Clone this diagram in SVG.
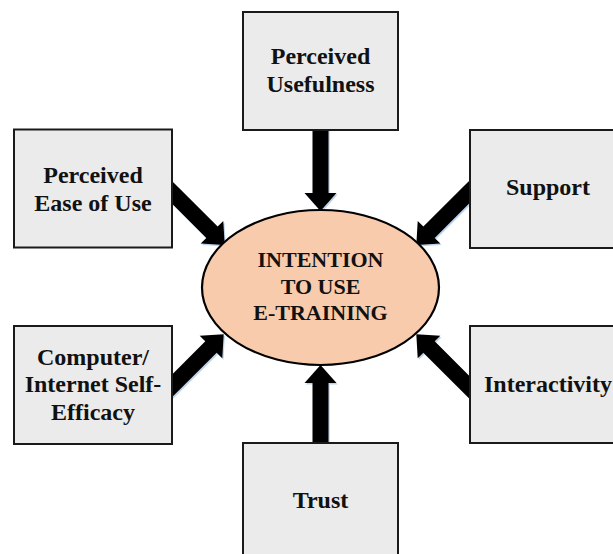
<svg xmlns="http://www.w3.org/2000/svg" xmlns:xlink="http://www.w3.org/1999/xlink" width="613" height="554" viewBox="0 0 613 554">
  <style>
    .box { fill: #ebebeb; stroke: #1a1a1a; stroke-width: 2; }
    .core { fill: #f8cbad; stroke: #000; stroke-width: 2.2; }
    .lbl { font-family: "Liberation Serif", "Times New Roman", serif; font-weight: bold; font-size: 24px; fill: #111; text-anchor: middle; }
    .core-lbl { font-size: 22px; }
    .arrow { fill: #000; }
    .arrow-shadow { fill: #bcd3ec; }
  </style>
  <defs>
    <!-- block arrow, tip at origin, pointing along +x -->
    <path id="blockArrow" d="M-90,-8 H-18 V-16 L0,0 L-18,16 V8 H-90 Z"/>
  </defs>

  <g id="connectors">
    <g class="arrow-shadow" transform="translate(1.2,1.5)">
      <use xlink:href="#blockArrow" transform="translate(320.5,211) rotate(90)"/>
      <use xlink:href="#blockArrow" transform="translate(320.5,365) rotate(-90)"/>
      <use xlink:href="#blockArrow" transform="translate(224.7,245) rotate(45)"/>
      <use xlink:href="#blockArrow" transform="translate(416.3,245) rotate(135)"/>
      <use xlink:href="#blockArrow" transform="translate(223.7,334.3) rotate(-45)"/>
      <use xlink:href="#blockArrow" transform="translate(416.3,334.3) rotate(-135)"/>
    </g>
    <g class="arrow">
      <use xlink:href="#blockArrow" transform="translate(320.5,211) rotate(90)"/>
      <use xlink:href="#blockArrow" transform="translate(320.5,365) rotate(-90)"/>
      <use xlink:href="#blockArrow" transform="translate(224.7,245) rotate(45)"/>
      <use xlink:href="#blockArrow" transform="translate(416.3,245) rotate(135)"/>
      <use xlink:href="#blockArrow" transform="translate(223.7,334.3) rotate(-45)"/>
      <use xlink:href="#blockArrow" transform="translate(416.3,334.3) rotate(-135)"/>
    </g>
  </g>

  <g id="intention">
    <ellipse class="core" cx="320.5" cy="287.5" rx="118.5" ry="77.5"/>
    <text class="lbl core-lbl" x="320.5" y="267">INTENTION</text>
    <text class="lbl core-lbl" x="320.5" y="293.5">TO USE</text>
    <text class="lbl core-lbl" x="320.5" y="320">E-TRAINING</text>
  </g>

  <g id="usefulness">
    <rect class="box" x="243" y="12" width="155" height="118"/>
    <text class="lbl" x="320.5" y="64">Perceived</text>
    <text class="lbl" x="320.5" y="92">Usefulness</text>
  </g>

  <g id="ease-of-use">
    <rect class="box" x="14" y="129.5" width="158" height="118"/>
    <text class="lbl" x="93" y="183">Perceived</text>
    <text class="lbl" x="93" y="211">Ease of Use</text>
  </g>

  <g id="support">
    <rect class="box" x="470" y="130" width="157" height="118"/>
    <text class="lbl" x="548" y="195">Support</text>
  </g>

  <g id="self-efficacy">
    <rect class="box" x="14" y="326" width="158" height="118"/>
    <text class="lbl" x="93" y="364.5">Computer/</text>
    <text class="lbl" x="93" y="392">Internet Self-</text>
    <text class="lbl" x="93" y="419.5">Efficacy</text>
  </g>

  <g id="interactivity">
    <rect class="box" x="470" y="326" width="157" height="117"/>
    <text class="lbl" x="548" y="392">Interactivity</text>
  </g>

  <g id="trust">
    <rect class="box" x="243" y="443" width="155" height="118"/>
    <text class="lbl" x="320.5" y="508">Trust</text>
  </g>
</svg>
